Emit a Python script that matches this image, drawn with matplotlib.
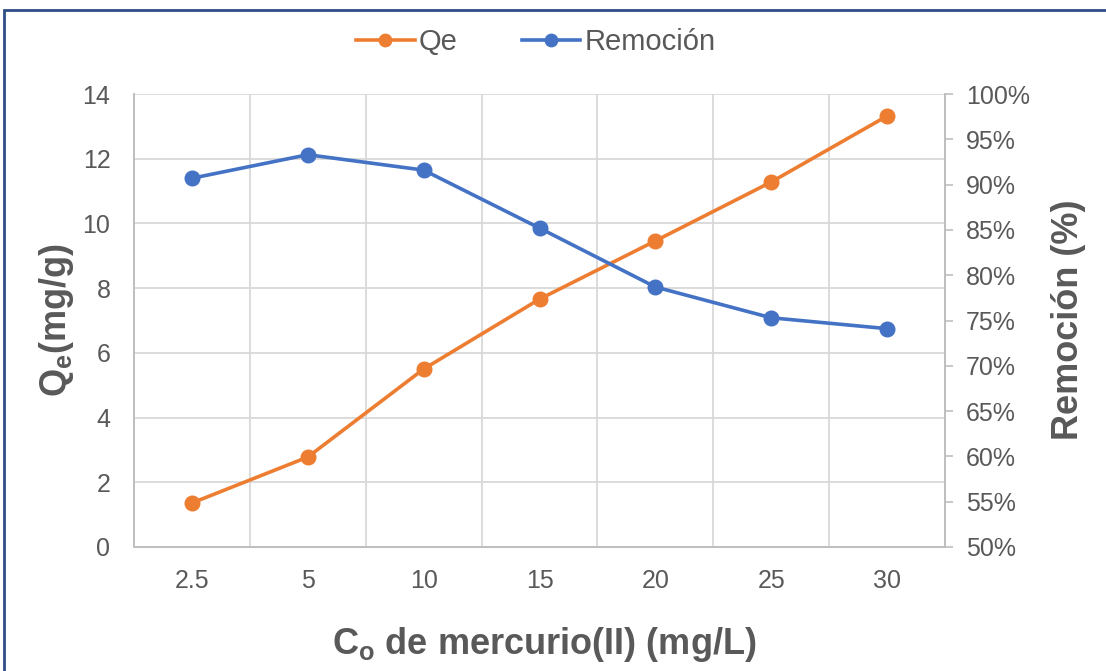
import matplotlib
matplotlib.use("Agg")
import matplotlib.pyplot as plt
from matplotlib.patches import Rectangle
from matplotlib.ticker import FuncFormatter, MultipleLocator, FixedLocator

plt.rcParams['font.family'] = ['Liberation Sans', 'DejaVu Sans']
plt.rcParams['mathtext.fontset'] = 'custom'
plt.rcParams['mathtext.rm'] = 'Liberation Sans'
plt.rcParams['mathtext.bf'] = 'Liberation Sans:bold'

categories = ["2.5", "5", "10", "15", "20", "25", "30"]
qe = [1.36, 2.78, 5.50, 7.66, 9.46, 11.28, 13.32]
remocion = [0.907, 0.933, 0.916, 0.852, 0.787, 0.753, 0.741]

TXT = "#595959"
GRID = "#D9D9D9"
SPINE = "#BFBFBF"
ORANGE = "#ED7D31"
BLUE = "#4472C4"

W, H = 1106, 671
fig = plt.figure(figsize=(W/100, H/100), dpi=100)
ax = fig.add_axes([134/W, 1-547/H, (945-134)/W, (547-94)/H])
ax2 = ax.twinx()

x = list(range(len(categories)))
l1, = ax.plot(x, qe, color=ORANGE, lw=2.6, marker='o', ms=10.5, zorder=3)
l2, = ax2.plot(x, remocion, color=BLUE, lw=2.6, marker='o', ms=10.5, zorder=3)

ax.set_xlim(-0.5, len(categories) - 0.5)
ax.set_ylim(0, 14)
ax.yaxis.set_major_locator(MultipleLocator(2))
ax2.set_ylim(0.5, 1.0)
ax2.yaxis.set_major_locator(MultipleLocator(0.05))
ax2.yaxis.set_major_formatter(FuncFormatter(lambda v, p: f"{v*100:.0f}%"))

ax.set_xticks(x)
ax.set_xticklabels(categories)
ax.xaxis.set_minor_locator(FixedLocator([i + 0.5 for i in range(len(categories) - 1)]))
ax.grid(True, which='major', axis='y', color=GRID, lw=1.3, zorder=0)
ax.grid(True, which='minor', axis='x', color=GRID, lw=1.3, zorder=0)
ax.set_axisbelow(True)

ax.tick_params(axis='x', which='both', length=0, pad=16, labelsize=18, labelcolor=TXT)
ax.tick_params(axis='y', length=0, pad=17, labelsize=18, labelcolor=TXT)
ax2.tick_params(axis='y', length=6, width=1.2, color=SPINE, pad=9, labelsize=18, labelcolor=TXT, direction='out')

for a in (ax, ax2):
    a.spines['top'].set_visible(False)
    for s in ('left', 'bottom', 'right'):
        a.spines[s].set_color(SPINE)
        a.spines[s].set_linewidth(1.3)

fig.text(56/W, 1-320/H, r"Q$_\mathbf{e}$(mg/g)", fontsize=26, fontweight='bold', color=TXT,
         rotation=90, ha='center', va='center')
fig.text(1068/W, 1-320/H, "Remoción (%)", fontsize=26, fontweight='bold', color=TXT,
         rotation=90, ha='center', va='center')
fig.text(544/W, 1-645/H, r"C$_\mathbf{o}$ de mercurio(II) (mg/L)", fontsize=26, fontweight='bold',
         color=TXT, ha='center', va='center')

leg = fig.legend([l1, l2], ["Qe", "Remoción"], loc='center', bbox_to_anchor=(536/W, 1-42/H),
                 ncol=2, frameon=False, fontsize=21, labelcolor=TXT, handlelength=2.0,
                 columnspacing=2.2, handletextpad=0.15, markerscale=0.85)

fig.patches.append(Rectangle((4/W, -0.05), 1.2, 1.05 - 10/H, transform=fig.transFigure,
                             fill=False, edgecolor="#2F4E86", lw=2, zorder=10))

fig.savefig("out.png", dpi=100)
